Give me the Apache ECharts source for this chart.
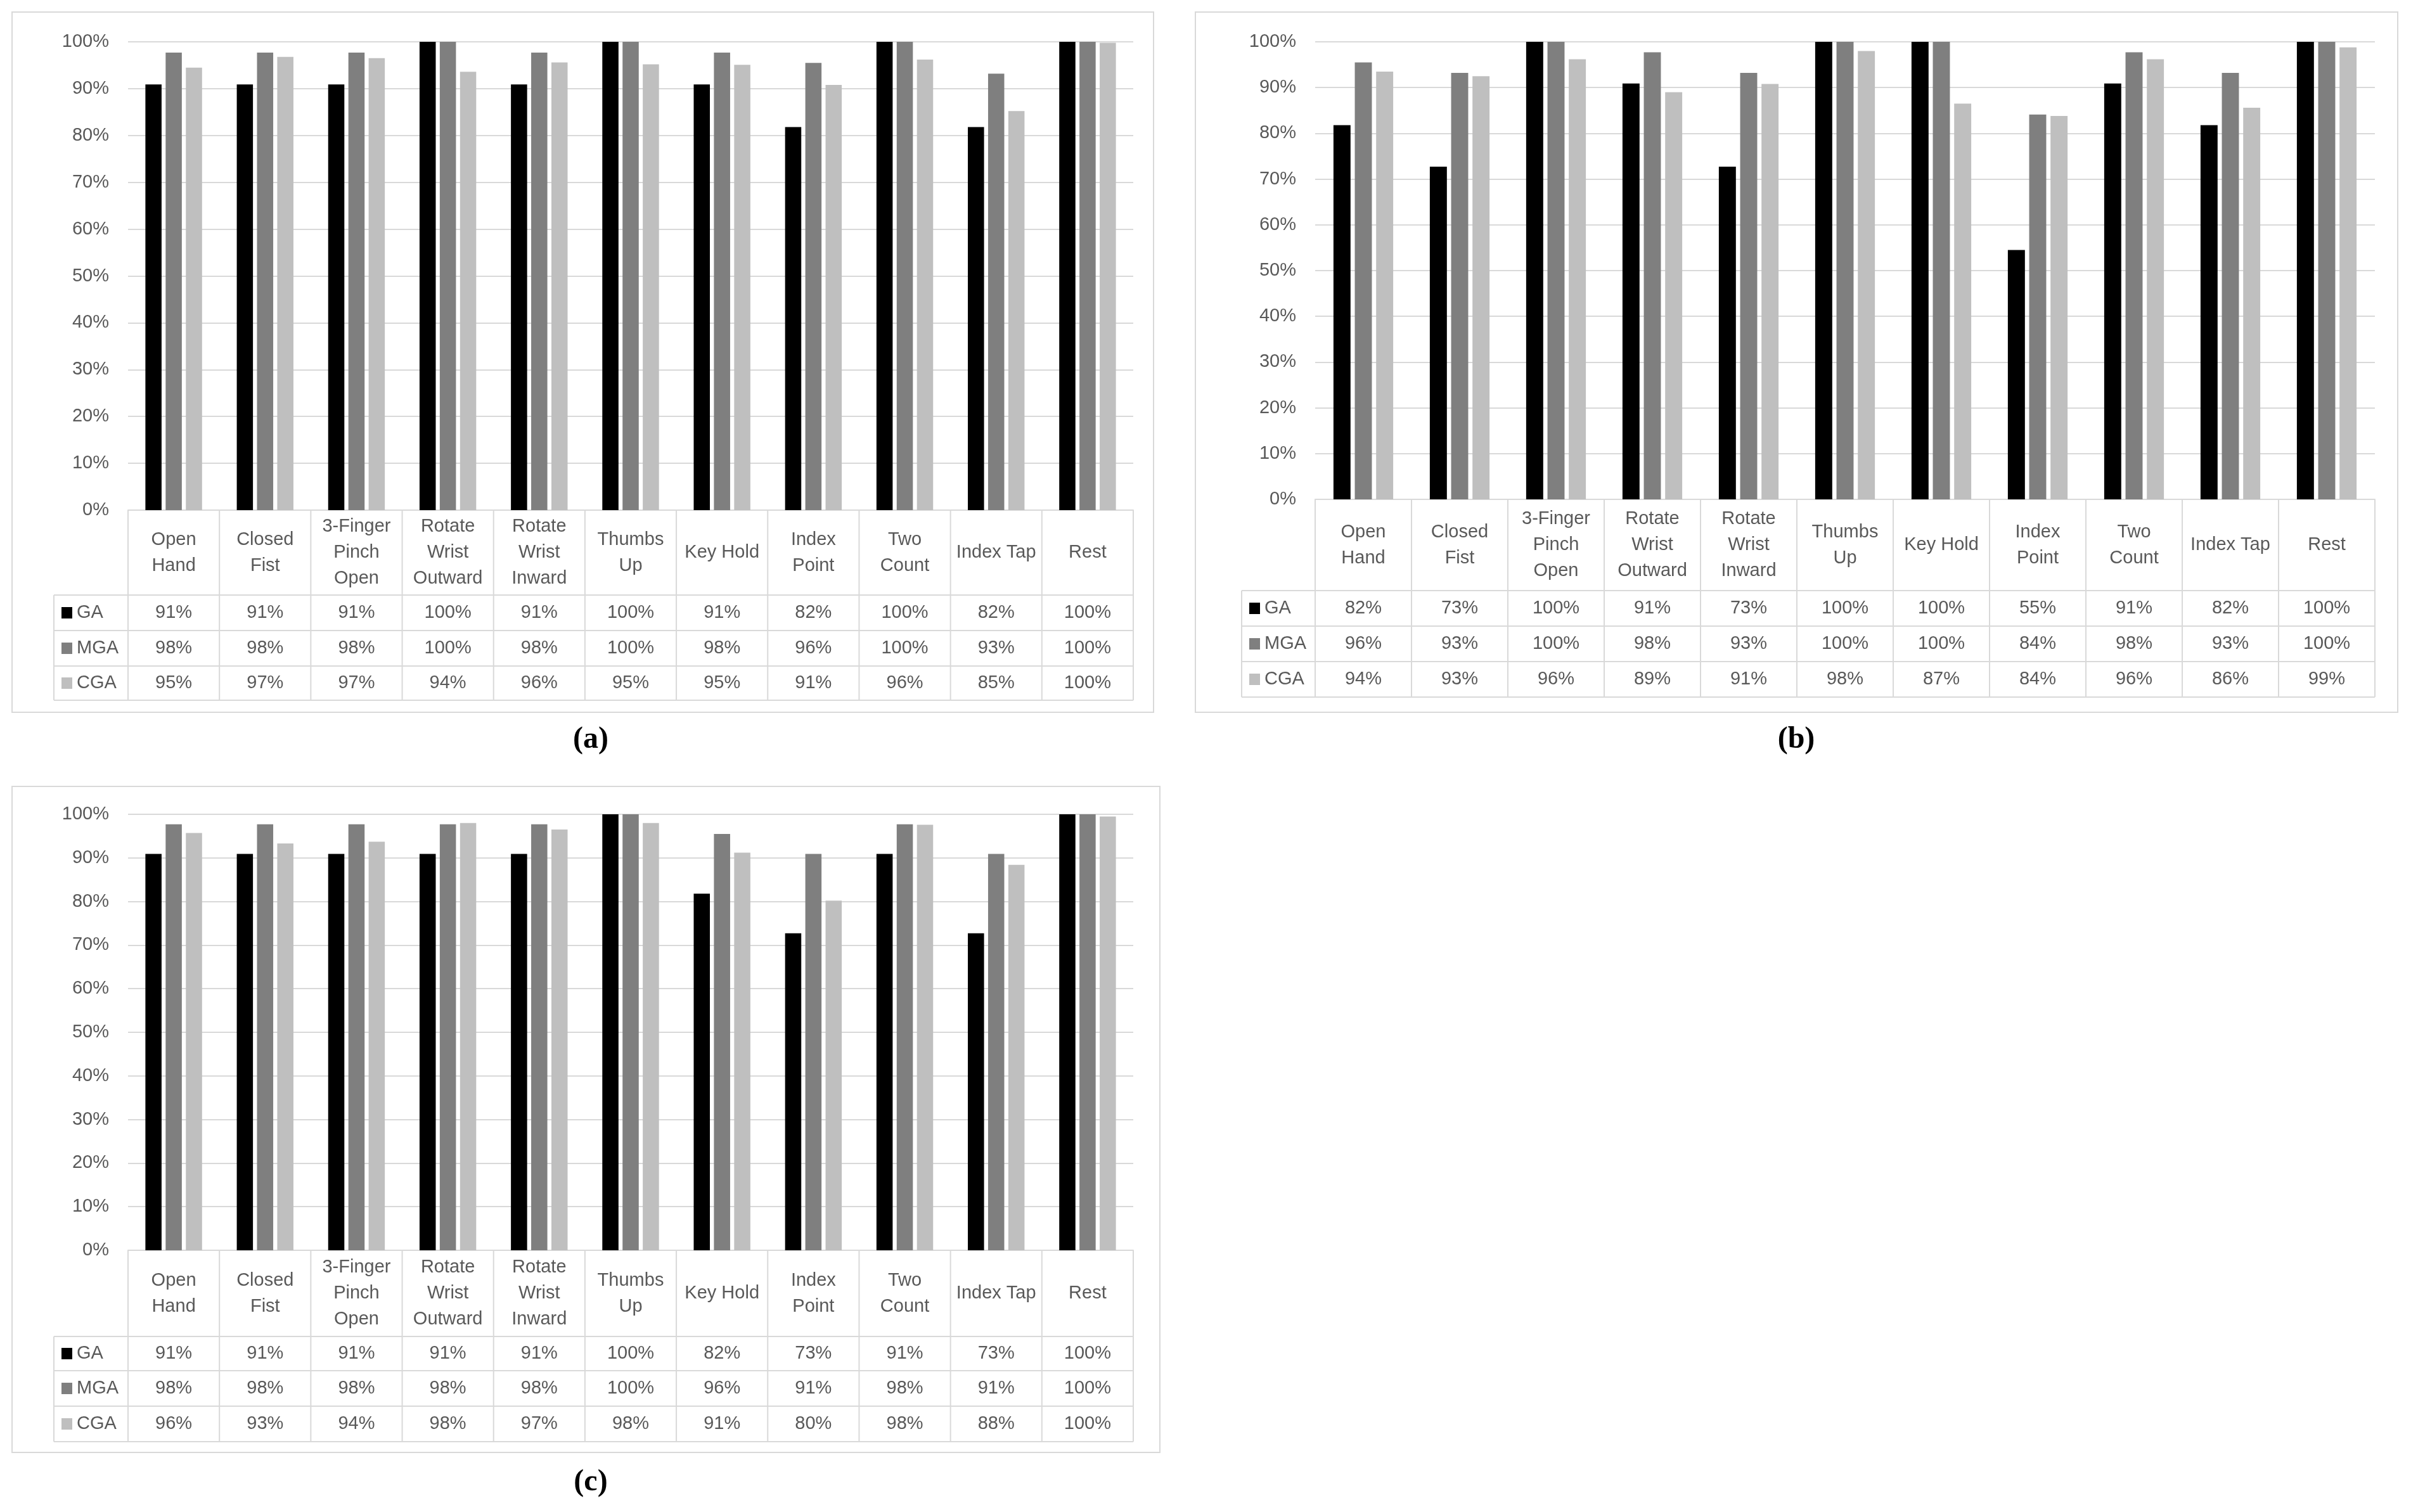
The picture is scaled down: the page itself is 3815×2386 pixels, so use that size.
<!doctype html>
<html><head><meta charset="utf-8">
<script src="https://cdn.jsdelivr.net/npm/echarts@6/dist/echarts.min.js"></script>
<style>html,body{margin:0;background:#fff}#c{width:3815px;height:2386px}</style>
</head><body><div id="c"></div>
<script>
// categories and series
const categories = ["Open\nHand", "Closed\nFist", "3-Finger\nPinch\nOpen", "Rotate\nWrist\nOutward", "Rotate\nWrist\nInward",
  "Thumbs\nUp", "Key Hold", "Index\nPoint", "Two\nCount", "Index Tap", "Rest"];
const seriesNames = ["GA", "MGA", "CGA"];
const yTicks = [0, 10, 20, 30, 40, 50, 60, 70, 80, 90, 100];

const gaA = [90.9, 90.9, 90.9, 100, 90.9, 100, 90.9, 81.8, 100, 81.8, 100];
const mgaA = [97.7, 97.7, 97.7, 100, 97.7, 100, 97.7, 95.5, 100, 93.2, 100];
const cgaA = [94.5, 96.8, 96.5, 93.6, 95.6, 95.2, 95.1, 90.8, 96.2, 85.2, 99.8];

const gaB = [81.8, 72.7, 100, 90.9, 72.7, 100, 100, 54.5, 90.9, 81.8, 100];
const mgaB = [95.5, 93.2, 100, 97.7, 93.2, 100, 100, 84.1, 97.7, 93.2, 100];
const cgaB = [93.5, 92.5, 96.2, 89.0, 90.8, 98.0, 86.5, 83.8, 96.2, 85.6, 98.8];

const gaC = [90.9, 90.9, 90.9, 90.9, 90.9, 100, 81.8, 72.7, 90.9, 72.7, 100];
const mgaC = [97.7, 97.7, 97.7, 97.7, 97.7, 100, 95.5, 90.9, 97.7, 90.9, 100];
const cgaC = [95.7, 93.3, 93.7, 98.0, 96.5, 98.0, 91.2, 80.2, 97.6, 88.4, 99.5];

const panelLabels = ["(a)", "(b)", "(c)"];

// layout (pixels)
const colors = ["#000000", "#7f7f7f", "#bfbfbf"];
const FONT = "'Liberation Sans Narrow', 'Liberation Sans', sans-serif";
const TXT = "#595959";
const LINE = "#d9d9d9";
const panels = [
  { data: [gaA, mgaA, cgaA], box: [19, 19, 1820, 1124], plot: [202, 66, 1788, 805], rows: [939, 995, 1051, 1105], leg: 85, lab: [932, 1168] },
  { data: [gaB, mgaB, cgaB], box: [1886, 19, 3783, 1124], plot: [2075, 66, 3747, 788], rows: [932, 988, 1044, 1100], leg: 1959, lab: [2834, 1168] },
  { data: [gaC, mgaC, cgaC], box: [19, 1241, 1830, 2292], plot: [202, 1285, 1788, 1973], rows: [2109, 2163, 2219, 2275], leg: 85, lab: [932, 2340] }
];

const chart = echarts.init(document.getElementById("c"), null, { renderer: "canvas" });

const grids = [], xAxes = [], yAxes = [], series = [];
panels.forEach((p, i) => {
  grids.push({ left: p.plot[0], top: p.plot[1], width: p.plot[2] - p.plot[0], height: p.plot[3] - p.plot[1] });
  xAxes.push({ type: "category", gridIndex: i, data: categories, axisLabel: { show: false },
    axisTick: { show: false }, axisLine: { lineStyle: { color: LINE, width: 2 } } });
  yAxes.push({ type: "value", gridIndex: i, min: 0, max: 100, interval: 10,
    axisLabel: { formatter: "{value}%", color: TXT, fontFamily: FONT, fontSize: 29, margin: 30 },
    splitLine: { lineStyle: { color: LINE, width: 2 } }, axisLine: { show: false }, axisTick: { show: false } });
  p.data.forEach((d, k) => {
    series.push({ type: "bar", name: seriesNames[k], xAxisIndex: i, yAxisIndex: i, data: d,
      itemStyle: { color: colors[k] }, barGap: "25%", barCategoryGap: "38%", silent: true });
  });
});

chart.setOption({ animation: false, grid: grids, xAxis: xAxes, yAxis: yAxes, series: series });

// table and frames drawn as graphic elements, using axis positions
const g = [];
const line = (x1, y1, x2, y2) => g.push({ type: "line", shape: { x1, y1, x2, y2 }, style: { stroke: LINE, lineWidth: 2 }, silent: true });
const text = (x, y, s, opt) => g.push({ type: "text", x, y, silent: true,
  style: Object.assign({ text: s, fill: TXT, font: "29px " + FONT, align: "center", verticalAlign: "middle", lineHeight: 41 }, opt || {}) });

panels.forEach((p, i) => {
  const [L, T, R, B] = p.box;
  g.push({ type: "rect", shape: { x: L, y: T, width: R - L, height: B - T }, style: { fill: null, stroke: LINE, lineWidth: 2 }, silent: true });
  const x0 = p.plot[0], x1 = p.plot[2], y0 = p.plot[3];
  const cw = (x1 - x0) / categories.length;
  // vertical lines
  for (let c = 0; c <= categories.length; c++) line(x0 + c * cw, y0, x0 + c * cw, p.rows[3]);
  line(p.leg, p.rows[0], p.leg, p.rows[3]);
  // horizontal lines
  p.rows.forEach(y => line(p.leg, y, x1, y));
  // category labels
  categories.forEach((cat, c) => {
    const cx = chart.convertToPixel({ xAxisIndex: i }, c);
    text(cx, (y0 + p.rows[0]) / 2, cat);
    p.data.forEach((d, k) => text(cx, (p.rows[k] + p.rows[k + 1]) / 2, Math.round(d[c]) + "%"));
  });
  // legend keys
  seriesNames.forEach((n, k) => {
    const cy = (p.rows[k] + p.rows[k + 1]) / 2;
    g.push({ type: "rect", shape: { x: p.leg + 12, y: cy - 9, width: 17, height: 18 }, style: { fill: colors[k] }, silent: true });
    text(p.leg + 36, cy, n, { align: "left" });
  });
  text(p.lab[0], p.lab[1], panelLabels[i], { fill: "#000", font: "bold 48px 'Liberation Serif', serif" });
});

chart.setOption({ graphic: { elements: g } });
</script></body></html>
